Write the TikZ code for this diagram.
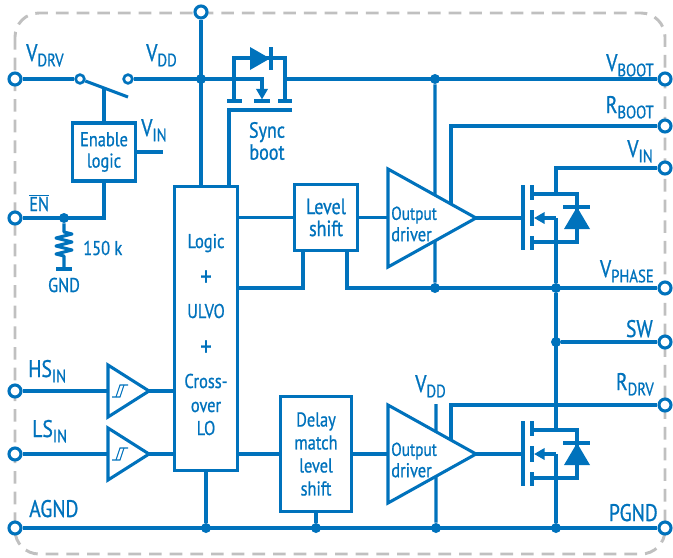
\documentclass[tikz,border=0pt]{standalone}
\usepackage{fontspec}
\setmainfont{PT Sans}[FakeStretch=0.82, FakeBold=0.8]
\usetikzlibrary{arrows.meta,calc}

\definecolor{icblue}{RGB}{0,114,188}
\definecolor{outlinegrey}{RGB}{192,192,192}

\newcommand\lblsize{\fontsize{18}{18}\selectfont}
\newcommand\subsize{\fontsize{13.5}{13.5}\selectfont}
\newcommand\boxsize{\fontsize{15}{16}\selectfont}
\newcommand\bigboxsize{\fontsize{16.5}{16.5}\selectfont}
\newcommand\sig[2]{#1\raisebox{-4pt}{\subsize #2}}

\tikzset{
  wire/.style={draw=icblue, line width=2.3pt},
  pad/.style={circle, draw=icblue, fill=white, line width=2.3pt, inner sep=0pt, minimum size=9pt},
  contact/.style={circle, draw=icblue, fill=white, line width=2pt, inner sep=0pt, minimum size=6.5pt},
  dot/.style={circle, fill=icblue, inner sep=0pt, minimum size=7.5pt},
  blk/.style={draw=icblue, line width=2.3pt, text=icblue, align=center, inner sep=0pt, font=\boxsize},
  lbl/.style={text=icblue, inner sep=0pt, font=\lblsize},
  txt/.style={text=icblue, inner sep=0pt, font=\boxsize, align=center},
  fetarrow/.style={-{Triangle[length=8pt,width=8.5pt]}},
}

\begin{document}
\begin{tikzpicture}[x=0.75pt,y=-0.75pt]
  \useasboundingbox (0,0) rectangle (673,557);
  % package outline
  \draw[draw=outlinegrey, line width=2.2pt, dash pattern=on 9.5pt off 6pt, rounded corners=18pt] (15,13) rectangle (665,554);

  % pads
  \node[pad] (vdrv) at (15,79) {};
  \node[pad] (en) at (15,218) {};
  \node[pad] (hsin) at (15,391) {};
  \node[pad] (lsin) at (15,454) {};
  \node[pad] (agnd) at (15,528) {};
  \node[pad] (vddpin) at (201,12) {};
  \node[pad] (vboot) at (665,79) {};
  \node[pad] (rboot) at (665,126) {};
  \node[pad] (vinr) at (665,168) {};
  \node[pad] (vphase) at (665,288) {};
  \node[pad] (sw) at (665,342) {};
  \node[pad] (rdrv) at (665,405) {};
  \node[pad] (pgnd) at (665,528) {};

  % blocks
  \node[blk, minimum width=47.25pt, minimum height=43.5pt] (enable) at (104,152) {Enable\\logic};
  \node[blk, minimum width=47.25pt, minimum height=213pt] (logic) at (206,328.5) {};
  \node[blk, minimum width=47.25pt, minimum height=49.5pt, font=\bigboxsize] (lshift) at (326,217.5) {Level\\shift};
  \node[blk, minimum width=53.25pt, minimum height=86.25pt, font=\fontsize{15}{17.25}\selectfont] (delay) at (316,454) {Delay\\match\\level\\shift};

  % logic text
  \node[txt, anchor=base] at (206,248) {Logic};
  \node[txt, anchor=base, font=\fontsize{21}{21}\selectfont] at (206,286) {+};
  \node[txt, anchor=base] at (206,318) {ULVO};
  \node[txt, anchor=base, font=\fontsize{21}{21}\selectfont] at (206,356) {+};
  \node[txt, anchor=base] at (206,388) {Cross-};
  \node[txt, anchor=base] at (206,412) {over};
  \node[txt, anchor=base] at (206,435) {LO};

  % junction dots
  \node[dot] (dvdd) at (201,79) {};
  \node[dot] (dboot) at (435,79) {};
  \node[dot] (den) at (64,218) {};
  \node[dot] (dph1) at (435,288) {};
  \node[dot] (dph2) at (556,288) {};
  \node[dot] (dsw) at (556,342) {};
  \node[dot] (dg1) at (206,528) {};
  \node[dot] (dg2) at (316,528) {};
  \node[dot] (dg3) at (436,528) {};
  \node[dot] (dg4) at (556,528) {};

  % enable switch
  \node[contact] (swa) at (80,79) {};
  \node[contact] (swb) at (128,79) {};
  \coordinate (swend) at (128,97);
  \coordinate (lever) at ($(swa)!0.5!(swend)$);
  \draw[wire] (vdrv) -- (swa);
  \draw[wire] (swa) -- (swend);
  \draw[wire] (lever) -- (enable.north);
  \coordinate (vinend) at (163,152);
  \draw[wire] (enable.east |- vinend) -- (vinend);
  \draw[wire] (enable.south) |- (en);

  % 150 k pull-down
  \coordinate (rtop) at (64,232);
  \coordinate (gndbar) at (64,269);
  \draw[wire, line join=round] (den) -- (rtop) -- ++(8,2) -- ++(-16,4) -- ++(16,4) -- ++(-16,4)
    -- ++(16,4) -- ++(-16,4) -- ++(8,2) -- (gndbar);
  \draw[wire] ($(gndbar)+(-8,0)$) -- ($(gndbar)+(8,0)$);

  % sync boot switch
  \coordinate (sbr) at (285,79);
  \coordinate (sbg) at (229,110);
  \draw[wire] (234,101) -- (234,58) -- (285,58) -- (sbr) -- (285,101);
  \fill[icblue] (250,47) -- (250,70) -- (270,58.5) -- cycle;
  \draw[wire] (271,47) -- (271,70);
  \draw[wire] (227,101) -- (242,101);
  \draw[wire] (254,101) -- (270,101);
  \draw[wire] (278,101) -- (292,101);
  \draw[wire] (292,110) -- (sbg) -- (sbg |- logic.north);
  \draw[wire, fetarrow] (swb) -- (262,79) -- (262,99.5);
  \draw[wire] (sbr) -- (vboot);
  \draw[wire] (vddpin) -- (vddpin |- logic.north);

  % power switches
  \foreach \ym/\nm in {218/hs, 454/ls} {
    \draw[wire] (523,\ym-33) -- (523,\ym+32);
    \draw[wire] (532,\ym-33) -- (532,\ym-18);
    \draw[wire] (532,\ym-8) -- (532,\ym+8);
    \draw[wire] (532,\ym+18) -- (532,\ym+32);
    \draw[wire] (532,\ym-24) -- (577,\ym-24) -- (577,\ym+24) -- (532,\ym+24);
    \draw[wire, fetarrow] (556,\ym) -- (534,\ym);
    \fill[icblue] (577,\ym-11) -- (590,\ym+11) -- (564,\ym+11) -- cycle;
    \draw[wire] (563,\ym-11) -- (590,\ym-11);
    \coordinate (\nm-g) at (523,\ym);
    \coordinate (\nm-d) at (556,\ym-24);
    \coordinate (\nm-s) at (556,\ym);
  }

  % input buffers
  \foreach \yb/\nm in {391/hsb, 454/lsb} {
    \draw[wire] (108,\yb-26) -- (149,\yb) -- (108,\yb+26) -- cycle;
    \draw[icblue, line width=0.8pt] (112,\yb+6) -- (120,\yb+6) -- (124,\yb-6);
    \draw[icblue, line width=0.8pt] (116,\yb+6) -- (120,\yb-6) -- (128,\yb-6);
    \coordinate (\nm-in) at (108,\yb);
    \coordinate (\nm-out) at (149,\yb);
  }
  \draw[wire] (hsin) -- (hsb-in);
  \draw[wire] (lsin) -- (lsb-in);
  \draw[wire] (hsb-out) -- (hsb-out -| logic.west);
  \draw[wire] (lsb-out) -- (lsb-out -| logic.west);

  % high side driver
  \coordinate (hdtl) at (388,169);
  \coordinate (hdbl) at (388,267);
  \coordinate (hdtip) at (476,218);
  \draw[wire] (hdtl) -- (hdtip) -- (hdbl) -- cycle;
  \node[txt, align=left, anchor=west] at (391,224) {\fontsize{14}{16}\selectfont Output\\driver};
  \draw[wire] (logic.east |- lshift.west) -- (lshift.west);
  \draw[wire] (lshift.east) -- (lshift.east -| hdtl);
  \draw[wire] (hdtip) -- (hs-g);
  \draw[wire] (dboot) -- ($(hdtl)!0.534!(hdtip)$);
  \draw[wire] ($(hdbl)!0.534!(hdtip)$) -- (dph1);
  \draw[wire] (rboot) -| ($(hdtl)!0.716!(hdtip)$);
  \draw[wire] (vinr) -| (hs-d);
  \draw[wire] (logic.east |- dph1) -| ($(lshift.south)+(-23,0)$);
  \draw[wire] ($(lshift.south)+(21,0)$) |- (vphase);
  \draw[wire] (hs-s) -- (dph2);

  % low side driver
  \coordinate (ldtl) at (388,405);
  \coordinate (ldbl) at (388,503);
  \coordinate (ldtip) at (476,454);
  \coordinate (vddlo) at (436,404);
  \draw[wire] (ldtl) -- (ldtip) -- (ldbl) -- cycle;
  \node[txt, align=left, anchor=west] at (391,460) {\fontsize{14}{16}\selectfont Output\\driver};
  \draw[wire] (logic.east |- delay.west) -- (delay.west);
  \draw[wire] (delay.east) -- (delay.east -| ldtl);
  \draw[wire] (ldtip) -- (ls-g);
  \draw[wire] (vddlo) -- ($(ldtl)!0.545!(ldtip)$);
  \draw[wire] ($(ldbl)!0.545!(ldtip)$) -- (dg3);
  \draw[wire] (rdrv) -| ($(ldtl)!0.716!(ldtip)$);
  \draw[wire] (dph2) -- (ls-d);
  \draw[wire] (dsw) -- (sw);
  \draw[wire] (ls-s) -- (dg4);

  % ground rail
  \draw[wire] (agnd) -- (pgnd);
  \draw[wire] (logic.south) -- (dg1);
  \draw[wire] (delay.south) -- (dg2);

  % labels
  \node[lbl, anchor=base west] at (26,61) {\sig{V}{DRV}};
  \node[lbl, anchor=base west] at (146,61) {\sig{V}{DD}};
  \node[lbl, anchor=base west] at (141,136) {\sig{V}{IN}};
  \node[txt, anchor=center, font=\bigboxsize] at (267,141) {Sync\\boot};
  \node[txt, anchor=base west] at (29,211) {$\overline{\mbox{EN}}$};
  \node[txt, anchor=base west] at (83,255) {150 k};
  \node[txt, anchor=base] at (64,292) {GND};
  \node[lbl, anchor=base west] at (28,377) {\sig{HS}{IN}};
  \node[lbl, anchor=base west] at (32,437) {\sig{LS}{IN}};
  \node[lbl, anchor=base west] at (29,517) {AGND};
  \node[lbl, anchor=base west] at (415,392) {\sig{V}{DD}};
  \node[lbl, anchor=base east] at (654,71) {\sig{V}{BOOT}};
  \node[lbl, anchor=base east] at (654,113) {\sig{R}{BOOT}};
  \node[lbl, anchor=base east] at (653,157) {\sig{V}{IN}};
  \node[lbl, anchor=base east] at (654,277) {\sig{V}{PHASE}};
  \node[lbl, anchor=base east] at (653,337) {SW};
  \node[lbl, anchor=base east] at (654,390) {\sig{R}{DRV}};
  \node[lbl, anchor=base east] at (658,521) {PGND};
\end{tikzpicture}
\end{document}
